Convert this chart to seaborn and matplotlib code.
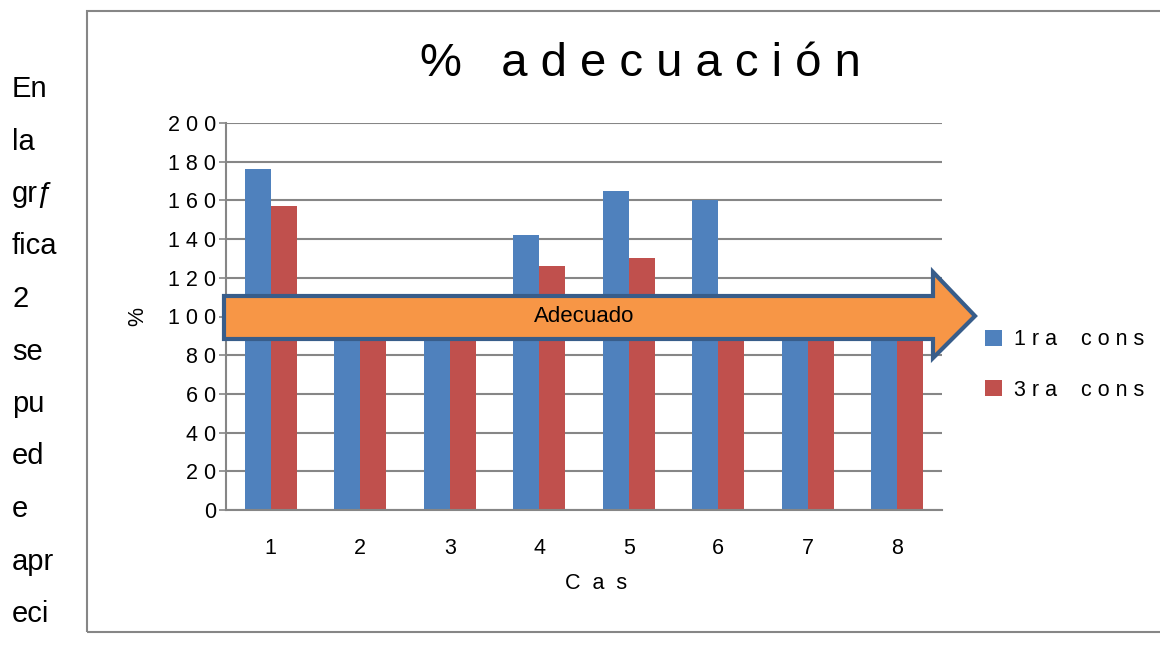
import matplotlib
matplotlib.use("Agg")
import matplotlib.pyplot as plt
from matplotlib.patches import Polygon, Rectangle
import pandas as pd
import seaborn as sns

# Data (bars hidden by the arrow estimated near 100)
casos = ["1", "2", "3", "4", "5", "6", "7", "8"]
primera = [176, 100, 100, 142, 165, 160, 100, 100]
tercera = [157, 100, 100, 126, 130, 100, 100, 100]
series = ["1ra cons", "3ra cons"]  # legend is cut by the page edge in the source
colores = ["#4F81BD", "#C0504D"]
y_ticks = list(range(0, 201, 20))
texto_lateral = ["En", "la", "gr\u0192", "fica", "2", "se", "pu", "ed", "e", "apr", "eci"]

def spaced(s, sep=" "):
    # spread letters out like the original rendering
    return " ".join(w if w != " " else sep for w in s)

df = pd.DataFrame({
    "Caso": casos * 2,
    "valor": primera + tercera,
    "consulta": [series[0]] * len(casos) + [series[1]] * len(casos),
})

sns.set_style("white")
plt.rcParams["font.family"] = ["Liberation Sans", "DejaVu Sans"]
plt.rcParams["text.color"] = "black"
plt.rcParams["axes.labelcolor"] = "black"
plt.rcParams["xtick.color"] = "black"
plt.rcParams["ytick.color"] = "black"

W, H = 1160, 652
fig = plt.figure(figsize=(W / 100, H / 100), dpi=100)
ax = fig.add_axes([226 / W, 1 - 510 / H, (942 - 226) / W, (510 - 123) / H])

sns.barplot(data=df, x="Caso", y="valor", hue="consulta", palette=colores,
            width=0.58, gap=0, linewidth=0, saturation=1, ax=ax, zorder=2)

ax.set_ylim(0, 200)
ax.set_yticks(y_ticks)
ax.set_yticklabels([spaced(str(v)) for v in y_ticks], fontsize=15.5)
ax.set_xticks(range(len(casos)))
ax.set_xticklabels(casos, fontsize=15.5)
ax.yaxis.grid(True, color="#868686", linewidth=1.5, zorder=0)
ax.set_axisbelow(True)
ax.tick_params(axis="y", length=5, width=1.2, color="#868686", left=True, pad=2)
ax.tick_params(axis="x", length=0, pad=20)
for side in ["top", "right"]:
    ax.spines[side].set_visible(False)
for side in ["left", "bottom"]:
    ax.spines[side].set_color("#868686")
    ax.spines[side].set_linewidth(1.5)

ax.set_xlabel("C  a  s", fontsize=15.5, labelpad=10)
ax.xaxis.label.set_x((596 - 226) / (942 - 226))
ax.set_ylabel("%", fontsize=15.5, labelpad=14)
fig.text(640 / W, 1 - 64 / H, spaced("% adecuación"), fontsize=34,
         ha="center", va="center")

# legend
handles, labels = ax.get_legend_handles_labels()
ax.legend(handles, [spaced(l, "  ") for l in labels], loc="center left",
          bbox_to_anchor=(966 / W, 1 - 365 / H), bbox_transform=fig.transFigure,
          frameon=False, fontsize=15.5, handlelength=0.75, handleheight=0.75,
          handletextpad=0.6, labelspacing=1.35)

# outer chart border
fig.patches.append(Rectangle((87 / W, 1 - 632 / H), 1.2, (632 - 11) / H,
                             transform=fig.transFigure, fill=False,
                             edgecolor="#868686", linewidth=1.5))

# "Adecuado" arrow
pts = [(224, 296), (933, 296), (933, 272), (975, 316), (933, 358),
       (933, 339), (224, 339)]
arrow = Polygon([(x / W, 1 - y / H) for x, y in pts], closed=True,
                transform=fig.transFigure, facecolor="#F79646",
                edgecolor="#385D8A", linewidth=3, clip_on=False, zorder=5)
ax.add_patch(arrow)
fig.text(584 / W, 1 - 316 / H, "Adecuado", fontsize=16, ha="center",
         va="center", zorder=6,
         family=["Liberation Sans Narrow", "Liberation Sans", "DejaVu Sans"])

# text column on the left
for i, t in enumerate(texto_lateral):
    fig.text(12 / W, 1 - (89 + i * 52.5) / H, t, fontsize=21,
             ha="left", va="center", family=["Liberation Sans", "DejaVu Sans"])

fig.savefig("out.png", dpi=100)
